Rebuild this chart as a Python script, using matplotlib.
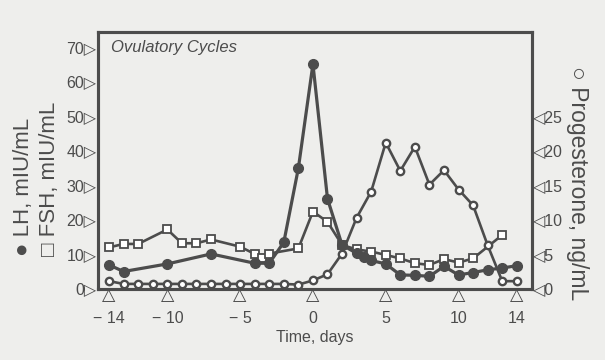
import matplotlib
matplotlib.use("Agg")
import matplotlib.pyplot as plt

plt.rcParams['font.family'] = ['Liberation Sans', 'DejaVu Sans']

# LH (filled circles), mIU/mL
lh_days = [-14, -13, -10, -7, -4, -3, -2, -1, 0, 1, 2, 3, 3.5, 4, 5, 6, 7, 8, 9, 10, 11, 12, 13, 14]
lh = [6.7, 4.8, 7.0, 9.9, 7.2, 7.2, 13.3, 34.8, 65, 25.9, 12.5, 10.1, 9.1, 8.0, 7.0,
      3.8, 3.7, 3.4, 6.3, 3.8, 4.5, 5.3, 5.8, 6.5]

# FSH (open squares), mIU/mL
fsh_days = [-14, -13, -12, -10, -9, -8, -7, -5, -4, -3.5, -3, -1, 0, 1, 2, 3, 4, 5, 6,
            7, 8, 9, 10, 11, 13]
fsh = [11.8, 12.8, 12.8, 17.0, 13.0, 13.0, 14.1, 12.0, 9.9, 8.6, 10.0, 11.5, 22.2, 19.2,
       12.5, 11.2, 10.6, 9.6, 8.6, 7.2, 6.7, 8.4, 7.4, 8.6, 15.4]

# progesterone (open circles), ng/mL
prog_days = list(range(-14, 15))
prog = [1.0, 0.6, 0.6, 0.6, 0.6, 0.6, 0.6, 0.6, 0.6, 0.6, 0.6, 0.6, 0.6, 0.5, 1.1,
        2.0, 5.0, 10.2, 14.0, 21.1, 17.0, 20.5, 15.0, 17.1, 14.3, 12.0, 6.2, 1.0, 1.0]

x_ticks = [-14, -10, -5, 0, 5, 10, 14]
left_ticks = [0, 10, 20, 30, 40, 50, 60, 70]
right_ticks = [0, 5, 10, 15, 20, 25]

ink = '#4c4c4c'
bg = '#eeeeec'

fig = plt.figure(figsize=(6.05, 3.6), dpi=100, facecolor=bg)
ax = fig.add_axes([0.162, 0.197, 0.717, 0.714])
ax.set_facecolor(bg)
ax2 = ax.twinx()

ax.plot(fsh_days, fsh, color=ink, lw=1.9, marker='s', ms=5.8, mfc='white', mec=ink, mew=1.3)
ax.plot(lh_days, lh, color=ink, lw=2.3, marker='o', ms=7, mfc=ink, mec=ink)
ax2.plot(prog_days, prog, color=ink, lw=1.9, marker='o', ms=5.3, mfc='white', mec=ink, mew=1.7)

ax.set_xlim(-14.76, 15.03)
ax.set_ylim(-0.3, 74.3)
ax2.set_ylim(-0.15, 37.15)

# numbers as major labels, open triangles as minor labels at the same days
ax.xaxis.remove_overlapping_locs = False
ax.set_xticks(x_ticks)
ax.set_xticklabels([f'− {-v}' if v < 0 else str(v) for v in x_ticks], fontsize=11.5, color=ink)
ax.set_xticks(x_ticks, minor=True)
ax.set_xticklabels(['△'] * len(x_ticks), minor=True, fontsize=12.5, color=ink)
ax.tick_params(axis='x', which='major', length=0, pad=16)
ax.tick_params(axis='x', which='minor', length=0, pad=-1)

ax.set_yticks(left_ticks)
ax.set_yticklabels([f'{v}▷' for v in left_ticks], fontsize=11.5, color=ink)
ax2.set_yticks(right_ticks)
ax2.set_yticklabels([f'◁{v}' for v in right_ticks], fontsize=11.5, color=ink)
ax.tick_params(axis='y', length=0, pad=1)
ax2.tick_params(length=0, pad=1)

for a in (ax, ax2):
    for s in a.spines.values():
        s.set_color(ink)
        s.set_linewidth(2.2)

ax.set_xlabel('Time, days', fontsize=11.5, color=ink, labelpad=3)
ax.text(0.03, 0.97, 'Ovulatory Cycles', transform=ax.transAxes, fontsize=12,
        style='italic', color=ink, va='top', ha='left')

fig.text(24 / 605, 1 - 256 / 360, '● LH, mIU/mL', rotation=90, fontsize=16,
         color=ink, ha='center', va='bottom')
fig.text(50 / 605, 1 - 256 / 360, '□ FSH, mIU/mL', rotation=90, fontsize=16,
         color=ink, ha='center', va='bottom')
fig.text(578 / 605, 1 - 66 / 360, '○ Progesterone, ng/mL', rotation=-90, fontsize=16.5,
         color=ink, ha='center', va='top')

fig.savefig('out.png', dpi=100, facecolor=bg)
